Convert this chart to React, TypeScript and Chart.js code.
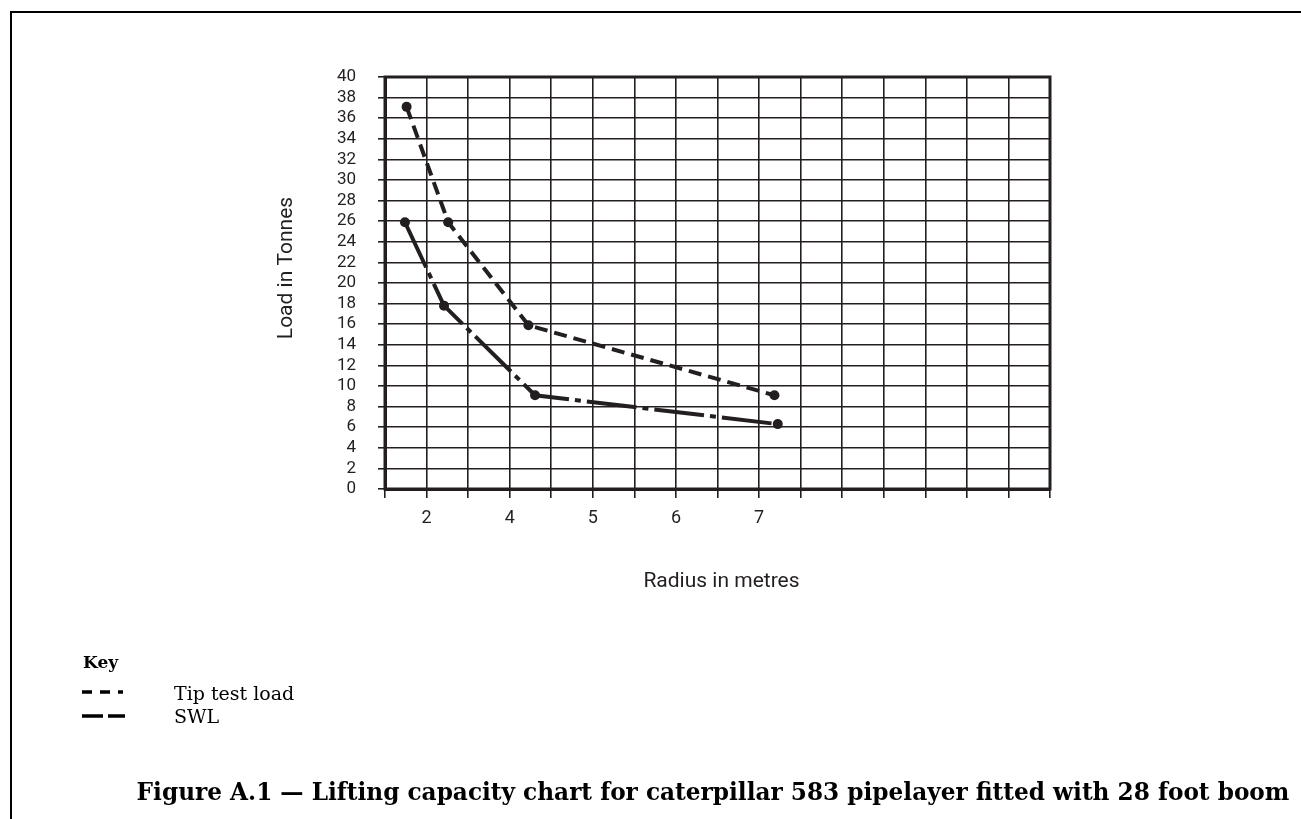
import React, { useEffect, useRef } from "react";
import { Chart, registerables } from "chart.js";

Chart.register(...registerables);

// ---- data (x in chart grid columns, y in tonnes) ----
const xTickLabels = ["", "2", "", "4", "", "5", "", "6", "", "7", "", "", "", "", "", "", ""];
const tipTestX = [0.52, 1.52, 3.45, 9.37];
const tipTestY = [37.1, 25.9, 15.9, 9.1];
const swlX = [0.48, 1.42, 3.61, 9.45];
const swlY = [25.9, 17.8, 9.1, 6.3];
const seriesNames = ["Tip test load", "SWL"];
const yAxisTitle = "Load in Tonnes";
const xAxisTitle = "Radius in metres";
const keyTitle = "Key";
const caption = "Figure A.1 \u2014 Lifting capacity chart for caterpillar 583 pipelayer fitted with 28 foot boom";

const INK = "#231f20";
const tipDash = [13, 7];
const swlDash = [50, 6, 6, 6];

const decorPlugin = {
  id: "decor",
  beforeDraw(chart: any) {
    const ctx = chart.ctx;
    ctx.save();
    ctx.strokeStyle = "#000";
    ctx.lineWidth = 2;
    ctx.strokeRect(11, 12, 1400, 900);
    ctx.restore();
  },
  beforeDatasetsDraw(chart: any) {
    const { ctx, chartArea } = chart;
    ctx.save();
    ctx.strokeStyle = INK;
    ctx.lineWidth = 3;
    ctx.strokeRect(chartArea.left, chartArea.top, chartArea.right - chartArea.left, chartArea.bottom - chartArea.top);
    ctx.restore();
  },
  afterDraw(chart: any) {
    const { ctx, chartArea } = chart;
    ctx.save();
    ctx.fillStyle = INK;
    // axis titles
    ctx.font = "21px Roboto";
    ctx.textAlign = "center";
    ctx.textBaseline = "middle";
    ctx.fillText(xAxisTitle, (chartArea.left + chartArea.right) / 2 + 4, chartArea.bottom + 93);
    ctx.save();
    ctx.translate(chartArea.left - 98, (chartArea.top + chartArea.bottom) / 2 - 15);
    ctx.rotate(-Math.PI / 2);
    ctx.fillText(yAxisTitle, 0, 0);
    ctx.restore();

    // key
    ctx.fillStyle = "#000";
    ctx.textAlign = "left";
    ctx.textBaseline = "alphabetic";
    ctx.font = "bold 17px 'DejaVu Serif'";
    ctx.fillText(keyTitle, 83, 668);
    ctx.font = "19px 'DejaVu Serif'";
    ctx.fillText(seriesNames[0], 174, 700);
    ctx.fillText(seriesNames[1], 174, 723);
    ctx.strokeStyle = "#000";
    ctx.lineWidth = 3.5;
    ctx.setLineDash([10, 8, 10, 8, 5, 100]);
    ctx.beginPath();
    ctx.moveTo(82, 692);
    ctx.lineTo(123, 692);
    ctx.stroke();
    ctx.setLineDash([21, 5, 17, 100]);
    ctx.beginPath();
    ctx.moveTo(82, 716);
    ctx.lineTo(125, 716);
    ctx.stroke();
    ctx.setLineDash([]);

    // caption
    ctx.textAlign = "center";
    let size = 20;
    ctx.font = `bold ${size}px 'DejaVu Serif'`;
    const w = ctx.measureText(caption).width;
    size = Math.max(10, size * 1153 / w);
    ctx.font = `bold ${size.toFixed(2)}px 'DejaVu Serif'`;
    ctx.fillText(caption, 713, 800);
    ctx.restore();
  },
};

export default function App() {
  const ref = useRef<HTMLCanvasElement | null>(null);
  useEffect(() => {
    if (!ref.current) return;
    const toPts = (xs: number[], ys: number[]) => xs.map((x, i) => ({ x, y: ys[i] }));
    const chart = new Chart(ref.current, {
      type: "scatter",
      data: {
        datasets: [
          {
            label: seriesNames[0],
            data: toPts(tipTestX, tipTestY),
            showLine: true,
            borderColor: INK,
            backgroundColor: INK,
            borderWidth: 4,
            borderDash: tipDash,
            pointRadius: 5,
            pointBorderWidth: 0,
            pointBackgroundColor: INK,
          },
          {
            label: seriesNames[1],
            data: toPts(swlX, swlY),
            showLine: true,
            borderColor: INK,
            backgroundColor: INK,
            borderWidth: 4,
            borderDash: swlDash,
            pointRadius: 5,
            pointBorderWidth: 0,
            pointBackgroundColor: INK,
          },
        ],
      },
      options: {
        animation: false,
        responsive: true,
        maintainAspectRatio: false,
        layout: { padding: { top: 77, right: 251, left: 0, bottom: 0 } },
        plugins: { legend: { display: false }, tooltip: { enabled: false } },
        scales: {
          x: {
            type: "linear",
            min: 0,
            max: 16,
            afterFit: (s: any) => { s.height = 330; },
            ticks: {
              stepSize: 1,
              autoSkip: false,
              maxRotation: 0,
              padding: 10,
              color: INK,
              font: { family: "Roboto", size: 18 },
              callback: (v: any) => xTickLabels[Math.round(Number(v))] ?? "",
            },
            grid: { color: INK, lineWidth: 1.6, drawTicks: true, tickLength: 9, tickColor: INK, tickWidth: 1.6 },
            border: { display: true, color: INK, width: 3 },
          },
          y: {
            type: "linear",
            min: 0,
            max: 40,
            afterFit: (s: any) => { s.width = 385; },
            ticks: {
              stepSize: 2,
              autoSkip: false,
              padding: 22,
              color: INK,
              font: { family: "Roboto", size: 17 },
            },
            grid: { color: INK, lineWidth: 1.6, drawTicks: true, tickLength: 7, tickColor: INK, tickWidth: 1.6 },
            border: { display: true, color: INK, width: 3 },
          },
        },
      },
      plugins: [decorPlugin],
    });
    return () => chart.destroy();
  }, []);
  return (
    <div style={{ position: "absolute", left: 0, top: 0, width: 1301, height: 819, background: "#fff" }}>
      <canvas ref={ref} />
    </div>
  );
}
